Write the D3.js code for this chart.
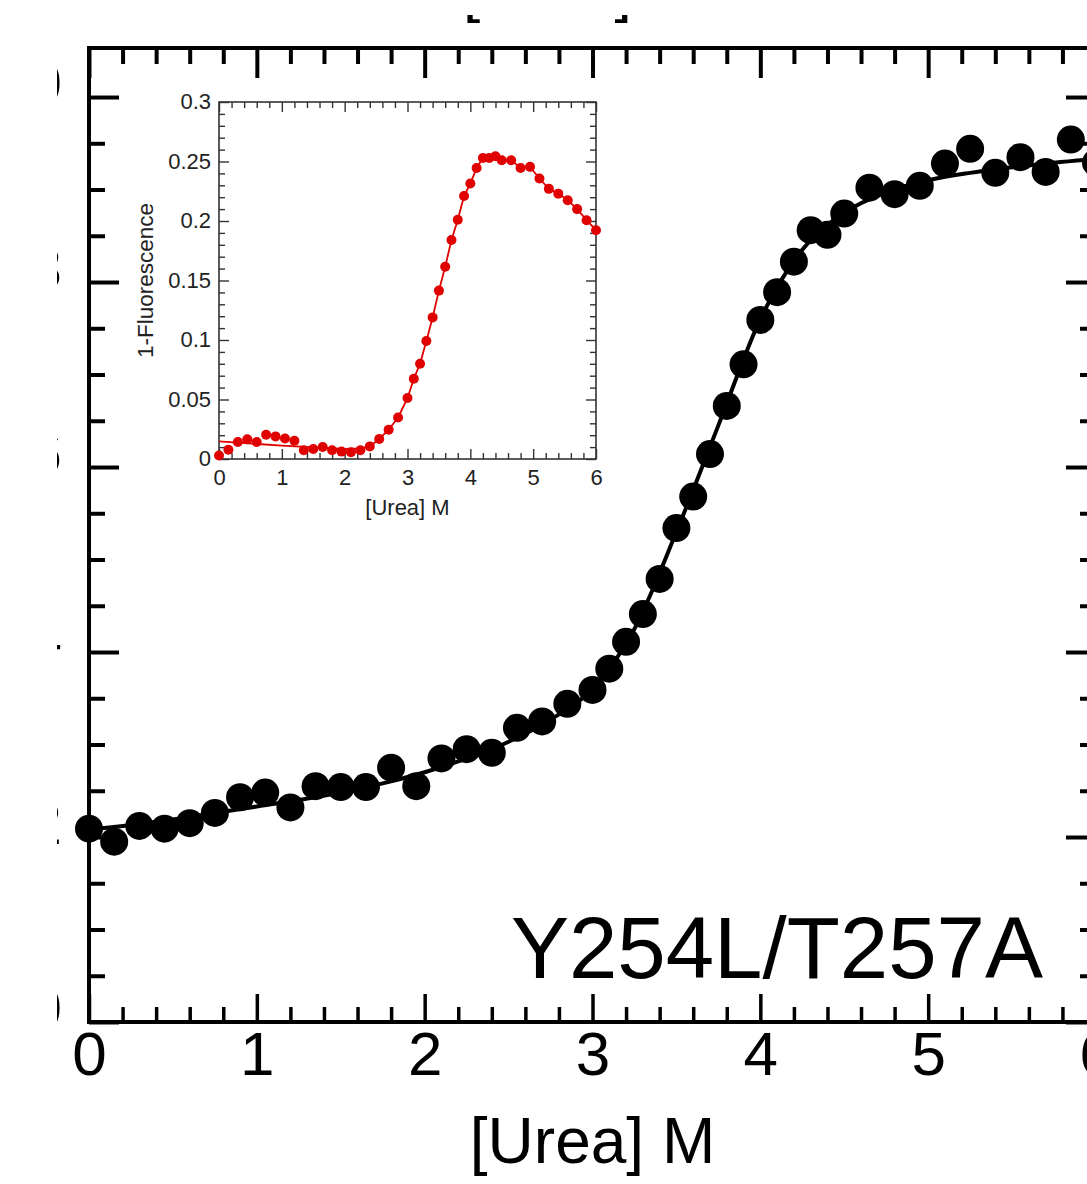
<!DOCTYPE html>
<html>
<head>
<meta charset="utf-8">
<script src="https://cdn.jsdelivr.net/npm/d3@7"></script>
<style>
  body { margin: 0; background: #fff; }
  svg { display: block; font-family: "Liberation Sans", Arial, Helvetica, sans-serif; }
</style>
</head>
<body>
<svg id="chart" width="1087" height="1184"></svg>
<script>
// urea concentrations (same grid for both panels)
const urea = [0, 0.15, 0.3, 0.45, 0.6, 0.75, 0.9, 1.05, 1.2, 1.35, 1.5, 1.65, 1.8, 1.95, 2.1, 2.25, 2.4, 2.55, 2.7, 2.85,
              3.0, 3.1, 3.2, 3.3, 3.4, 3.5, 3.6, 3.7, 3.8, 3.9, 4.0, 4.1, 4.2, 4.3, 4.4, 4.5,
              4.65, 4.8, 4.95, 5.1, 5.25, 5.4, 5.55, 5.7, 5.85, 6.0];

// main panel signal
const mainSignal = [0.209, 0.195, 0.212, 0.209, 0.215, 0.226, 0.243, 0.248, 0.232, 0.255, 0.254, 0.254, 0.275, 0.255,
                    0.285, 0.295, 0.291, 0.318, 0.325, 0.344, 0.359, 0.382, 0.411, 0.441, 0.479, 0.534, 0.568, 0.614,
                    0.666, 0.711, 0.759, 0.789, 0.822, 0.856, 0.851, 0.874, 0.902, 0.895, 0.904, 0.928, 0.944, 0.918,
                    0.935, 0.919, 0.954, 0.929];

// main panel fitted curve
const fitX = [0, 0.25, 0.5, 0.75, 1.0, 1.25, 1.5, 1.75, 2.0, 2.25, 2.5, 2.75, 3.0, 3.25, 3.5, 3.75, 4.0, 4.25, 4.5,
              4.75, 5.0, 5.25, 5.5, 5.75, 6.0];
const fitY = [0.208, 0.213, 0.219, 0.226, 0.233, 0.240, 0.248, 0.258, 0.270, 0.285, 0.303, 0.327, 0.360, 0.425, 0.530,
              0.645, 0.760, 0.835, 0.875, 0.897, 0.910, 0.918, 0.924, 0.929, 0.933];

// inset: 1-Fluorescence
const insetSignal = [0.003, 0.0078, 0.0143, 0.0165, 0.0143, 0.0204, 0.019, 0.0173, 0.0154, 0.0073, 0.0084, 0.0101,
                     0.0073, 0.0062, 0.0056, 0.0073, 0.0106, 0.0168, 0.0246, 0.0349, 0.0512, 0.0674, 0.080, 0.0992,
                     0.119, 0.1415, 0.1616, 0.184, 0.201, 0.221, 0.2315, 0.2446, 0.253, 0.253, 0.2544, 0.251, 0.251,
                     0.2446, 0.2455, 0.2357, 0.227, 0.223, 0.2175, 0.21, 0.2007, 0.1923];
// inset baseline part of the fit line
const insetBaseX = [0, 1.0, 2.0, 2.25];
const insetBaseY = [0.0148, 0.0112, 0.0084, 0.009];

const xTicks = [0, 1, 2, 3, 4, 5, 6];
const yMainTicks = [0, 0.2, 0.4, 0.6, 0.8, 1.0];
const yInsetTicks = [0, 0.05, 0.1, 0.15, 0.2, 0.25, 0.3];
const yInsetLabels = ["0", "0.05", "0.1", "0.15", "0.2", "0.25", "0.3"];

const svg = d3.select("#chart");
const defs = svg.append("defs");

// ---------- main panel ----------
const x = d3.scaleLinear().domain([0, 6]).range([89, 1096]);
const y = d3.scaleLinear().domain([0, 1.053]).range([1022, 48]);

const minorX = d3.range(0, 30.5).map(i => i / 5).filter(v => !xTicks.includes(v));
const minorY = d3.range(0, 20.5).map(i => i / 20).filter(v => !yMainTicks.some(t => Math.abs(t - v) < 1e-9));

function tickAxis(axisFn, scale, values, len, transform, width) {
  const g = svg.append("g")
    .attr("transform", transform)
    .call(axisFn(scale).tickValues(values).tickSize(len).tickFormat(""));
  g.select(".domain").remove();
  g.selectAll("line").attr("stroke", "#000").attr("stroke-width", width);
  return g;
}

// bottom (ticks up), top (ticks down), left (ticks right), right (ticks left)
tickAxis(d3.axisTop, x, xTicks, 28, `translate(0,${y(0)})`, 3.5);
tickAxis(d3.axisTop, x, minorX, 15, `translate(0,${y(0)})`, 3.5);
tickAxis(d3.axisBottom, x, xTicks, 30, `translate(0,${y.range()[1]})`, 4);
tickAxis(d3.axisBottom, x, minorX, 16, `translate(0,${y.range()[1]})`, 4);
tickAxis(d3.axisRight, y, yMainTicks, 30, `translate(${x(0)},0)`, 4);
tickAxis(d3.axisRight, y, minorY, 16, `translate(${x(0)},0)`, 4);
tickAxis(d3.axisLeft, y, yMainTicks, 30, `translate(${x(6)},0)`, 4);
tickAxis(d3.axisLeft, y, minorY, 16, `translate(${x(6)},0)`, 4);

svg.append("rect")
  .attr("x", x(0)).attr("y", y.range()[1])
  .attr("width", x(6) - x(0)).attr("height", y(0) - y.range()[1])
  .attr("fill", "none").attr("stroke", "#000").attr("stroke-width", 4);

// x tick labels
const xLab = svg.append("g")
  .attr("transform", `translate(0,${y(0)})`)
  .call(d3.axisBottom(x).tickValues(xTicks).tickSize(0).tickPadding(0).tickFormat(d3.format("d")));
xLab.select(".domain").remove();
xLab.selectAll("text")
  .attr("y", 53).attr("dy", 0)
  .attr("font-size", 62).attr("font-family", null).attr("fill", "#000");

// y tick labels (cut by the left crop)
defs.append("clipPath").attr("id", "leftCrop")
  .append("rect").attr("x", 57).attr("y", 0).attr("width", 100).attr("height", 1184);
svg.append("g").attr("clip-path", "url(#leftCrop)")
  .selectAll("text").data(yMainTicks).join("text")
  .attr("x", 62).attr("y", d => y(d) + 7)
  .attr("text-anchor", "end").attr("font-size", 62)
  .text(d => d3.format(".1f")(d));

// partial label of the panel above (cut by the top crop)
defs.append("clipPath").attr("id", "topCrop")
  .append("rect").attr("x", 0).attr("y", 15).attr("width", 1087).attr("height", 100);
svg.append("text")
  .attr("clip-path", "url(#topCrop)")
  .attr("x", 463).attr("y", 10).attr("font-size", 62)
  .text("[Urea] M");

svg.append("text")
  .attr("x", x(3)).attr("y", 1163)
  .attr("text-anchor", "middle").attr("font-size", 64)
  .text("[Urea] M");

svg.append("text")
  .attr("x", 1043).attr("y", 978)
  .attr("text-anchor", "end").attr("font-size", 87)
  .text("Y254L/T257A");

const line = d3.line().x(d => x(d[0])).y(d => y(d[1])).curve(d3.curveMonotoneX);
svg.append("path")
  .datum(fitX.map((v, i) => [v, fitY[i]]))
  .attr("d", line)
  .attr("fill", "none").attr("stroke", "#000").attr("stroke-width", 4);

svg.append("g").selectAll("circle")
  .data(urea.map((v, i) => [v, mainSignal[i]]))
  .join("circle")
  .attr("cx", d => x(d[0])).attr("cy", d => y(d[1]))
  .attr("r", 14).attr("fill", "#000");

// ---------- inset ----------
const xi = d3.scaleLinear().domain([0, 6]).range([219, 596]);
const yi = d3.scaleLinear().domain([0, 0.3]).range([459, 102]);
const inset = svg.append("g");

inset.append("rect")
  .attr("x", xi(0)).attr("y", yi(0.3))
  .attr("width", xi(6) - xi(0)).attr("height", yi(0) - yi(0.3))
  .attr("fill", "#fff");

const minorXi = d3.range(0, 30.5).map(i => i / 5).filter(v => !xTicks.includes(v));
const minorYi = d3.range(0, 30.5).map(i => i / 100).filter(v => !yInsetTicks.some(t => Math.abs(t - v) < 1e-9));

function insetTicks(axisFn, scale, values, len, transform) {
  const g = inset.append("g")
    .attr("transform", transform)
    .call(axisFn(scale).tickValues(values).tickSize(len).tickFormat(""));
  g.select(".domain").remove();
  g.selectAll("line").attr("stroke", "#333").attr("stroke-width", 1.4);
}
insetTicks(d3.axisTop, xi, xTicks, 10, `translate(0,${yi(0)})`);
insetTicks(d3.axisTop, xi, minorXi, 6, `translate(0,${yi(0)})`);
insetTicks(d3.axisBottom, xi, xTicks, 10, `translate(0,${yi(0.3)})`);
insetTicks(d3.axisBottom, xi, minorXi, 6, `translate(0,${yi(0.3)})`);
insetTicks(d3.axisRight, yi, yInsetTicks, 10, `translate(${xi(0)},0)`);
insetTicks(d3.axisRight, yi, minorYi, 6, `translate(${xi(0)},0)`);
insetTicks(d3.axisLeft, yi, yInsetTicks, 10, `translate(${xi(6)},0)`);
insetTicks(d3.axisLeft, yi, minorYi, 6, `translate(${xi(6)},0)`);

inset.append("rect")
  .attr("x", xi(0)).attr("y", yi(0.3))
  .attr("width", xi(6) - xi(0)).attr("height", yi(0) - yi(0.3))
  .attr("fill", "none").attr("stroke", "#333").attr("stroke-width", 1.6);

const xiLab = inset.append("g")
  .attr("transform", `translate(0,${yi(0)})`)
  .call(d3.axisBottom(xi).tickValues(xTicks).tickSize(0).tickFormat(d3.format("d")));
xiLab.select(".domain").remove();
xiLab.selectAll("text").attr("y", 26).attr("dy", 0)
  .attr("font-size", 22).attr("font-family", null).attr("fill", "#222");

const yiLab = inset.append("g")
  .attr("transform", `translate(${xi(0)},0)`)
  .call(d3.axisLeft(yi).tickValues(yInsetTicks).tickSize(0).tickPadding(8)
    .tickFormat((d, i) => yInsetLabels[i]));
yiLab.select(".domain").remove();
yiLab.selectAll("text").attr("dy", "0.3em")
  .attr("font-size", 22).attr("font-family", null).attr("fill", "#222");

inset.append("text")
  .attr("x", xi(3)).attr("y", 515)
  .attr("text-anchor", "middle").attr("font-size", 22).attr("fill", "#222")
  .text("[Urea] M");

inset.append("text")
  .attr("transform", `translate(153,${(yi(0) + yi(0.3)) / 2}) rotate(-90)`)
  .attr("text-anchor", "middle").attr("font-size", 22.5).attr("fill", "#222")
  .text("1-Fluorescence");

const insetLine = insetBaseX.map((v, i) => [v, insetBaseY[i]])
  .concat(urea.map((v, i) => [v, insetSignal[i]]).filter(d => d[0] >= 2.4));
inset.append("path")
  .datum(insetLine)
  .attr("d", d3.line().x(d => xi(d[0])).y(d => yi(d[1])))
  .attr("fill", "none").attr("stroke", "#e00000").attr("stroke-width", 1.8);

inset.append("g").selectAll("circle")
  .data(urea.map((v, i) => [v, insetSignal[i]]))
  .join("circle")
  .attr("cx", d => xi(d[0])).attr("cy", d => yi(d[1]))
  .attr("r", 5).attr("fill", "#e00000");
</script>
</body>
</html>
